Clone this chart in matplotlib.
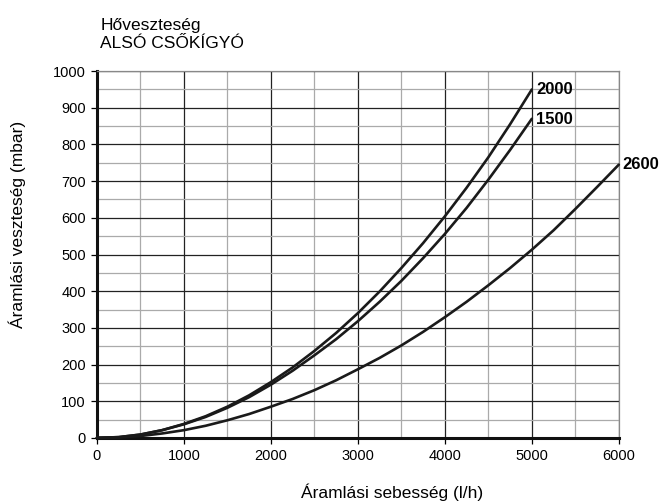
import numpy as np
import matplotlib.pyplot as plt

plt.rcParams['font.family'] = ['Liberation Sans', 'DejaVu Sans']

# leolvasott ertekek (250 l/h lepessel)
x_a = [0, 250, 500, 750, 1000, 1250, 1500, 1750, 2000, 2250, 2500, 2750, 3000,
       3250, 3500, 3750, 4000, 4250, 4500, 4750, 5000]
y_2000 = [0, 2, 9, 21, 38, 59, 85, 116, 152, 192, 237, 286, 340,
          399, 463, 531, 604, 682, 765, 855, 950]
y_1500 = [0, 2, 9, 21, 37, 57, 82, 111, 145, 183, 225, 269, 318,
          371, 428, 490, 556, 627, 704, 785, 870]
x_b = [0, 250, 500, 750, 1000, 1250, 1500, 1750, 2000, 2250, 2500, 2750, 3000,
       3250, 3500, 3750, 4000, 4250, 4500, 4750, 5000, 5250, 5500, 5750, 6000]
y_2600 = [0, 1, 5, 12, 21, 33, 48, 65, 85, 106, 130, 157, 187,
          218, 252, 289, 329, 371, 416, 463, 513, 566, 624, 684, 745]

fig = plt.figure(figsize=(6.59, 5.01), dpi=100)
ax = fig.add_axes([0.147, 0.126, 0.792, 0.732])

lc = '#1a1a1a'
for xs, ys in [(x_a, y_2000), (x_a, y_1500), (x_b, y_2600)]:
    ax.plot(xs, ys, color=lc, lw=1.9, solid_capstyle='round', zorder=5, clip_on=False)

ax.text(x_a[-1] + 50, y_2000[-1], '2000', fontsize=12, fontweight='bold', va='center', ha='left')
ax.text(x_a[-1] + 50, y_1500[-1] - 3, '1500', fontsize=12, fontweight='bold', va='center', ha='left')
ax.text(x_b[-1] + 40, y_2600[-1], '2600', fontsize=12, fontweight='bold', va='center', ha='left',
        clip_on=False)

ax.set_xlim(0, 6000)
ax.set_ylim(0, 1000)
ax.set_xticks(np.arange(0, 6001, 1000))
ax.set_yticks(np.arange(0, 1001, 100))
ax.set_xticks(np.arange(500, 6000, 1000), minor=True)
ax.set_yticks(np.arange(50, 1000, 100), minor=True)
ax.grid(which='major', color='#222222', lw=0.9)
ax.grid(which='minor', color='#aaaaaa', lw=0.9)
ax.tick_params(which='major', direction='out', length=4, width=0.9, labelsize=10.5, pad=4)
ax.tick_params(which='minor', length=0)

for s in ['top', 'right']:
    ax.spines[s].set_color('#888888')
    ax.spines[s].set_linewidth(0.9)
for s in ['left', 'bottom']:
    ax.spines[s].set_color('#111111')
    ax.spines[s].set_linewidth(2.2)

ax.set_xlabel('Áramlási sebesség (l/h)', fontsize=12.5)
ax.xaxis.set_label_coords(0.565, -0.125)
ax.set_ylabel('Áramlási veszteség (mbar)', fontsize=12.5)
ax.yaxis.set_label_coords(-0.136, 0.583)

fig.text(0.152, 0.898, 'Hőveszteség\nALSÓ CSŐKÍGYÓ', fontsize=12.5, va='bottom', ha='left', linespacing=1.3)

fig.savefig('out.png', dpi=100)
